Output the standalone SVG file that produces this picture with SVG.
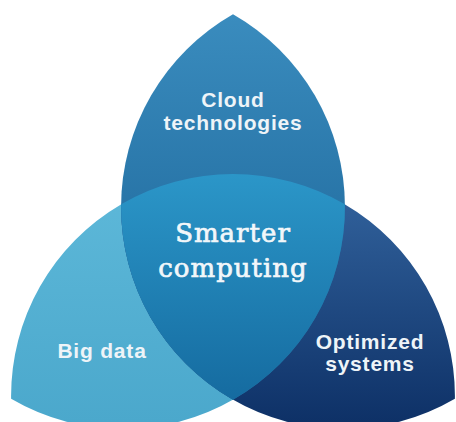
<svg xmlns="http://www.w3.org/2000/svg" width="456" height="422" viewBox="0 0 456 422">
  <defs>
    <linearGradient id="gTop" gradientUnits="userSpaceOnUse" x1="0" y1="14" x2="0" y2="240">
      <stop offset="0" stop-color="#3a8cbe"/>
      <stop offset="1" stop-color="#2571a4"/>
    </linearGradient>
    <linearGradient id="gLeft" gradientUnits="userSpaceOnUse" x1="0" y1="200" x2="0" y2="422">
      <stop offset="0" stop-color="#5cb7d8"/>
      <stop offset="1" stop-color="#4ba8cc"/>
    </linearGradient>
    <linearGradient id="gRight" gradientUnits="userSpaceOnUse" x1="0" y1="200" x2="0" y2="422">
      <stop offset="0" stop-color="#30609a"/>
      <stop offset="1" stop-color="#0e3167"/>
    </linearGradient>
    <linearGradient id="gCenter" gradientUnits="userSpaceOnUse" x1="0" y1="175" x2="0" y2="400">
      <stop offset="0" stop-color="#2b96c8"/>
      <stop offset="1" stop-color="#156ba0"/>
    </linearGradient>
    <style>
      .lbl { font-family: "Liberation Sans", Arial, sans-serif; font-weight: bold; font-size: 21px; letter-spacing: 0.8px; fill: #eef4f8; text-anchor: middle; }
      .main { font-family: "DejaVu Serif", "Liberation Serif", serif; font-size: 26px; letter-spacing: 1px; fill: #f2f7fa; stroke: #f2f7fa; stroke-width: 0.7px; text-anchor: middle; }
    </style>
  </defs>
  <g id="big-data">
    <path d="M344.9,204.3 A222,222 0 0 0 11.1,398.7 A222,222 0 0 0 344.9,204.3 Z" fill="url(#gLeft)"/>
    <text class="lbl" x="102" y="358">Big data</text>
  </g>
  <g id="optimized-systems">
    <path d="M121.1,204.3 A222,222 0 0 1 454.9,398.7 A222,222 0 0 1 121.1,204.3 Z" fill="url(#gRight)"/>
    <text class="lbl" x="370" y="349">Optimized</text>
    <text class="lbl" x="370" y="371">systems</text>
  </g>
  <g id="cloud-technologies">
    <path d="M233,14.2 A222,222 0 0 0 233,399.8 A222,222 0 0 0 233,14.2 Z" fill="url(#gTop)"/>
    <text class="lbl" x="233" y="107">Cloud</text>
    <text class="lbl" x="233" y="130">technologies</text>
  </g>
  <g id="smarter-computing">
    <path d="M121.1,204.3 A222,222 0 0 1 344.9,204.3 A222,222 0 0 1 233,399.8 A222,222 0 0 1 121.1,204.3 Z" fill="url(#gCenter)"/>
    <text class="main" x="233" y="242">Smarter</text>
    <text class="main" x="233" y="277">computing</text>
  </g>
  <g id="connectors"/>
</svg>
